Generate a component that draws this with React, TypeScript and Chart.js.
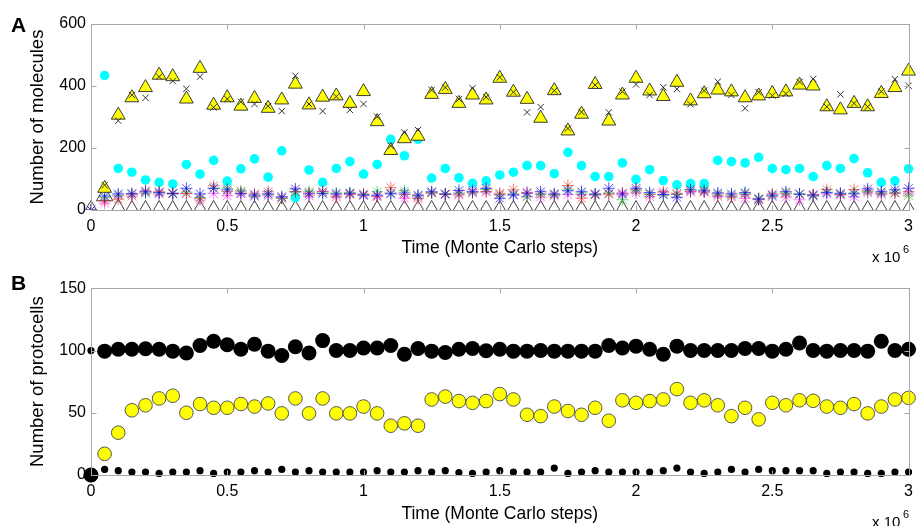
import React, { useEffect, useRef } from "react";
import { Chart, registerables } from "chart.js";

Chart.register(...registerables);

const FONT = "'Liberation Sans', Arial, Helvetica, sans-serif";

// Time in units of 10^6 Monte Carlo steps
const TIMES = [
  0, 0.05, 0.1, 0.15, 0.2, 0.25, 0.3, 0.35, 0.4, 0.45, 0.5, 0.55, 0.6, 0.65, 0.7, 0.75, 0.8, 0.85, 0.9, 0.95,
  1, 1.05, 1.1, 1.15, 1.2, 1.25, 1.3, 1.35, 1.4, 1.45, 1.5, 1.55, 1.6, 1.65, 1.7, 1.75, 1.8, 1.85, 1.9, 1.95,
  2, 2.05, 2.1, 2.15, 2.2, 2.25, 2.3, 2.35, 2.4, 2.45, 2.5, 2.55, 2.6, 2.65, 2.7, 2.75, 2.8, 2.85, 2.9, 2.95, 3,
];

const X_TICKS = [0, 0.5, 1, 1.5, 2, 2.5, 3];
const A_Y_TICKS = [0, 200, 400, 600];
const B_Y_TICKS = [0, 50, 100, 150];

// Panel A – number of molecules
const yellowTriangles = [
  null, 70, 306, 362, 395, 435, 430, 358, 457, 338,
  362, 335, 360, 328, 355, 406, 339, 364, 368, 344,
  382, 285, 192, 230, 238, 373, 389, 344, 371, 355,
  425, 380, 357, 296, 385, 255, 309, 405, 287, 371,
  425, 384, 366, 412, 352, 375, 387, 381, 362, 368,
  376, 381, 403, 400, 333, 323, 344, 333, 376, 395, 448,
];
const blackCrosses = [
  null, 80, 288, 371, 362, 430, 416, 391, 430, 331,
  358, 349, 342, 335, 319, 433, 342, 319, 366, 323,
  342, 301, 207, 250, 258, 387, 395, 358, 393, 364,
  428, 380, 315, 332, 385, 263, 316, 403, 315, 382,
  405, 371, 396, 390, 341, 385, 414, 371, 328, 380,
  369, 375, 413, 423, 333, 373, 344, 333, 382, 422, 401,
];
const cyanDots = [
  null, 434, 134, 122, 97, 89, 84, 147, 116, 160,
  93, 133, 165, 106, 191, 40, 129, 89, 134, 156,
  116, 147, 228, 175, 228, 103, 134, 104, 86, 94,
  113, 122, 143, 143, 117, 186, 143, 108, 108, 152,
  99, 130, 95, 81, 85, 85, 160, 156, 152, 170,
  134, 130, 134, 108, 143, 134, 166, 120, 89, 94, 133,
];
const blueStars = [
  0, 45, 52, 53, 59, 56, 53, 70, 52, 70,
  65, 53, 48, 52, 43, 68, 52, 53, 52, 54,
  48, 48, 52, 55, 48, 59, 52, 63, 59, 70,
  38, 48, 54, 59, 52, 62, 59, 52, 70, 52,
  70, 56, 50, 41, 65, 62, 55, 52, 56, 35,
  48, 59, 52, 48, 56, 54, 52, 68, 59, 65, 70,
];
const redStars = [
  0, 30, 35, 45, 62, 59, 55, 53, 38, 78,
  60, 58, 52, 59, 38, 60, 55, 59, 42, 50,
  52, 43, 72, 50, 37, 55, 50, 52, 55, 60,
  54, 65, 57, 52, 50, 79, 38, 48, 52, 55,
  65, 50, 59, 54, 60, 58, 48, 42, 50, 33,
  52, 52, 50, 50, 66, 50, 66, 62, 54, 54, 59,
];
const greenStars = [
  0, 40, 48, 52, 54, 55, 52, 58, 40, 70,
  70, 62, 45, 50, 38, 58, 60, 55, 55, 56,
  50, 59, 55, 62, 45, 55, 52, 55, 58, 66,
  48, 52, 42, 50, 48, 65, 55, 50, 55, 33,
  62, 52, 48, 50, 65, 65, 52, 48, 54, 38,
  45, 55, 50, 45, 58, 52, 55, 59, 55, 58, 46,
];
const magentaStars = [
  0, 22, 45, 50, 55, 51, 52, 53, 32, 53,
  46, 52, 43, 45, 40, 59, 45, 60, 48, 52,
  46, 45, 54, 38, 42, 55, 50, 48, 65, 58,
  50, 50, 45, 42, 45, 50, 50, 50, 51, 48,
  55, 43, 55, 50, 58, 58, 43, 45, 38, 36,
  43, 42, 33, 45, 52, 48, 43, 55, 50, 55, 52,
];
const whiteTriangles = [
  0, 45, 4, 0, 0, 0, 0, 0, 0, 0,
  0, 0, 0, 0, 0, 0, 0, 0, 0, 0,
  0, 0, 0, 0, 0, 0, 0, 0, 0, 0,
  0, 0, 0, 0, 0, 0, 0, 0, 0, 0,
  0, 0, 0, 0, 0, 0, 0, 0, 0, 0,
  0, 0, 0, 0, 0, 0, 0, 0, 0, 0, 0,
];

// Panel B – number of protocells
const bigBlackDots = [
  0, 99.5, 101, 101, 101.4, 101, 99.5, 98, 104, 107.5,
  104.6, 101, 105, 99.5, 96, 103, 98, 108, 100, 100,
  102, 102, 104, 97, 101.6, 99.5, 98.4, 101, 101.6, 99.8,
  101, 99.5, 99.5, 100, 99.5, 99.5, 99.5, 99.5, 104, 102,
  103.5, 101, 97, 103.5, 100, 100, 100, 100, 101.6, 101.6,
  99.5, 101, 106, 100, 99.5, 100, 100, 99.5, 107.5, 100, 101,
];
const yellowCircles = [
  0, 17, 34, 52, 56, 61.5, 63.7, 50, 57, 54,
  54, 57, 55, 57.5, 49.5, 61.5, 49.5, 61.5, 49.5, 49.5,
  55, 49.5, 39.6, 41.5, 39.6, 60.7, 63, 59.4, 58, 59.4,
  65, 60.7, 48.4, 47.3, 55, 51.4, 48.4, 54, 43.6, 60,
  58, 59.4, 60.7, 69, 58, 60, 56, 47.3, 54, 44.7,
  58, 56, 60, 59.6, 55, 54, 57, 49.5, 55, 60.7, 62,
];
const smallBlackDots = [
  100, 4.5, 3.5, 2.4, 2.4, 1.3, 2.4, 2.4, 3.5, 1.3,
  2.4, 2.4, 3.5, 2.4, 4.5, 2.4, 3.5, 2.4, 2.4, 2.4,
  2.4, 3.5, 2.4, 2.4, 3.5, 2.4, 3.5, 2, 1.3, 2.4,
  3.5, 2.4, 2.4, 2.4, 5.6, 1.3, 2.4, 3.5, 2.4, 2.4,
  2.4, 2.4, 3.5, 5.6, 2.4, 1.3, 2.4, 4.5, 2.4, 4.5,
  3.5, 3.5, 3.5, 3.5, 1.3, 2.4, 2.4, 1.3, 1.3, 2.4, 2.4,
];

const pts = (vals: (number | null)[]) =>
  vals.map((v, i) => ({ x: TIMES[i], y: v === null ? NaN : v }));

const FRAME = "#a8a8a8";

const framePlugin = (letter: string, letterY: number, expY: number) => ({
  id: "frame" + letter,
  afterDraw(chart: any) {
    const { ctx, chartArea: a, scales } = chart;
    ctx.save();
    ctx.strokeStyle = FRAME;
    ctx.lineWidth = 1;
    const L = Math.round(a.left) + 0.5;
    const R = Math.round(a.right) + 0.5;
    const T = Math.round(a.top) + 0.5;
    const B = Math.round(a.bottom) + 0.5;
    ctx.strokeRect(L, T, R - L, B - T);
    ctx.beginPath();
    for (const v of X_TICKS) {
      const px = Math.round(scales.x.getPixelForValue(v)) + 0.5;
      ctx.moveTo(px, T);
      ctx.lineTo(px, T + 5);
      ctx.moveTo(px, B);
      ctx.lineTo(px, B - 5);
    }
    for (const t of scales.y.ticks) {
      const py = Math.round(scales.y.getPixelForValue(t.value)) + 0.5;
      ctx.moveTo(L, py);
      ctx.lineTo(L + 5, py);
      ctx.moveTo(R, py);
      ctx.lineTo(R - 5, py);
    }
    ctx.stroke();
    ctx.fillStyle = "#000";
    ctx.textBaseline = "alphabetic";
    ctx.textAlign = "left";
    ctx.font = `bold 21px ${FONT}`;
    ctx.fillText(letter, 11, letterY);
    ctx.font = `15px ${FONT}`;
    ctx.fillText("x 10", 872, expY);
    ctx.font = `11px ${FONT}`;
    ctx.fillText("6", 903, expY - 9);
    ctx.restore();
  },
});

function makeOptions(yMax: number, yTitle: string, xHeight: number, topPad: number, titleBottom: number, clip: any) {
  return {
    responsive: false,
    animation: false as const,
    devicePixelRatio: 1,
    layout: { padding: { top: topPad, right: 7.3, bottom: 0, left: 0 } },
    plugins: { legend: { display: false }, tooltip: { enabled: false } },
    datasets: { scatter: { clip } },
    scales: {
      x: {
        type: "linear" as const,
        min: 0,
        max: 3,
        afterBuildTicks: (s: any) => {
          s.ticks = X_TICKS.map((v) => ({ value: v }));
        },
        ticks: {
          color: "#000",
          font: { family: FONT, size: 16 },
          padding: 7,
          maxRotation: 0,
          autoSkip: false,
          callback: (v: any) => String(Math.round(Number(v) * 10) / 10),
        },
        grid: { display: false, drawTicks: false },
        border: { display: false },
        title: {
          display: true,
          text: "Time (Monte Carlo steps)",
          color: "#000",
          font: { family: FONT, size: 17.5 },
          padding: { top: 0, bottom: titleBottom },
        },
        afterFit: (s: any) => {
          s.height = xHeight;
        },
      },
      y: {
        type: "linear" as const,
        min: 0,
        max: yMax,
        afterBuildTicks: (s: any) => {
          s.ticks = (yMax === 600 ? A_Y_TICKS : B_Y_TICKS).map((v) => ({ value: v }));
        },
        ticks: {
          color: "#000",
          font: { family: FONT, size: 16 },
          padding: 5,
        },
        grid: { display: false, drawTicks: false },
        border: { display: false },
        title: {
          display: true,
          text: yTitle,
          color: "#000",
          font: { family: FONT, size: 18.5 },
          padding: { top: 27, bottom: 0 },
        },
        afterFit: (s: any) => {
          s.width = 91;
        },
      },
    },
  };
}

function PanelA() {
  const ref = useRef<HTMLCanvasElement | null>(null);
  useEffect(() => {
    if (!ref.current) return;
    const clip = { left: false, right: false, top: false, bottom: 0 };
    const chart = new Chart(ref.current, {
      type: "scatter",
      data: {
        datasets: [
          {
            label: "x",
            data: pts(blackCrosses),
            pointStyle: "crossRot",
            pointRadius: 4.5,
            borderColor: "#333",
            backgroundColor: "#333",
            pointBorderWidth: 1,
          },
          {
            label: "yellow",
            data: pts(yellowTriangles),
            pointStyle: "triangle",
            pointRadius: 8,
            backgroundColor: "#ffff00",
            borderColor: "#3a3a3a",
            pointBorderWidth: 1,
          },
          {
            label: "blue",
            data: pts(blueStars),
            pointStyle: "star",
            pointRadius: 6,
            borderColor: "rgba(0,0,255,0.65)",
            backgroundColor: "rgba(0,0,255,0.65)",
            pointBorderWidth: 1,
          },
          {
            label: "green",
            data: pts(greenStars),
            pointStyle: "star",
            pointRadius: 6,
            borderColor: "rgba(0,200,0,0.55)",
            backgroundColor: "rgba(0,200,0,0.55)",
            pointBorderWidth: 1,
          },
          {
            label: "red",
            data: pts(redStars),
            pointStyle: "star",
            pointRadius: 6,
            borderColor: "rgba(255,0,0,0.55)",
            backgroundColor: "rgba(255,0,0,0.55)",
            pointBorderWidth: 1,
          },
          {
            label: "magenta",
            data: pts(magentaStars),
            pointStyle: "star",
            pointRadius: 6,
            borderColor: "rgba(255,0,255,0.55)",
            backgroundColor: "rgba(255,0,255,0.55)",
            pointBorderWidth: 1,
          },
          {
            label: "cyan",
            data: pts(cyanDots),
            pointStyle: "circle",
            pointRadius: 4.8,
            backgroundColor: "#00ffff",
            borderColor: "#00ffff",
            pointBorderWidth: 0,
          },
          {
            label: "white",
            data: pts(whiteTriangles),
            pointStyle: "triangle",
            pointRadius: 9.5,
            backgroundColor: "rgba(255,255,255,0)",
            borderColor: "#444",
            pointBorderWidth: 1,
          },
        ],
      },
      options: makeOptions(600, "Number of molecules", 53, 24, 4.5, clip) as any,
      plugins: [framePlugin("A", 32, 262)],
    });
    return () => chart.destroy();
  }, []);
  return <canvas ref={ref} width={920} height={263} style={{ display: "block", width: 920, height: 263 }} />;
}

function PanelB() {
  const ref = useRef<HTMLCanvasElement | null>(null);
  useEffect(() => {
    if (!ref.current) return;
    const chart = new Chart(ref.current, {
      type: "scatter",
      data: {
        datasets: [
          {
            label: "small",
            data: pts(smallBlackDots),
            pointStyle: "circle",
            pointRadius: 3.6,
            backgroundColor: "#000",
            borderColor: "#000",
            pointBorderWidth: 0,
          },
          {
            label: "big",
            data: pts(bigBlackDots),
            pointStyle: "circle",
            pointRadius: 7.5,
            backgroundColor: "#000",
            borderColor: "#000",
            pointBorderWidth: 0,
          },
          {
            label: "yellow",
            data: pts(yellowCircles),
            pointStyle: "circle",
            pointRadius: 6.8,
            backgroundColor: "#ffff00",
            borderColor: "#555",
            pointBorderWidth: 1,
          },
        ],
      },
      options: makeOptions(150, "Number of protocells", 51, 25.3, 1.5, false) as any,
      plugins: [framePlugin("B", 290 - 263, 527 - 263)],
    });
    return () => chart.destroy();
  }, []);
  return <canvas ref={ref} width={920} height={263} style={{ display: "block", width: 920, height: 263 }} />;
}

export default function App() {
  return (
    <div style={{ position: "fixed", left: 0, top: 0, width: 920, height: 526, background: "#fff", overflow: "hidden" }}>
      <PanelA />
      <PanelB />
    </div>
  );
}
